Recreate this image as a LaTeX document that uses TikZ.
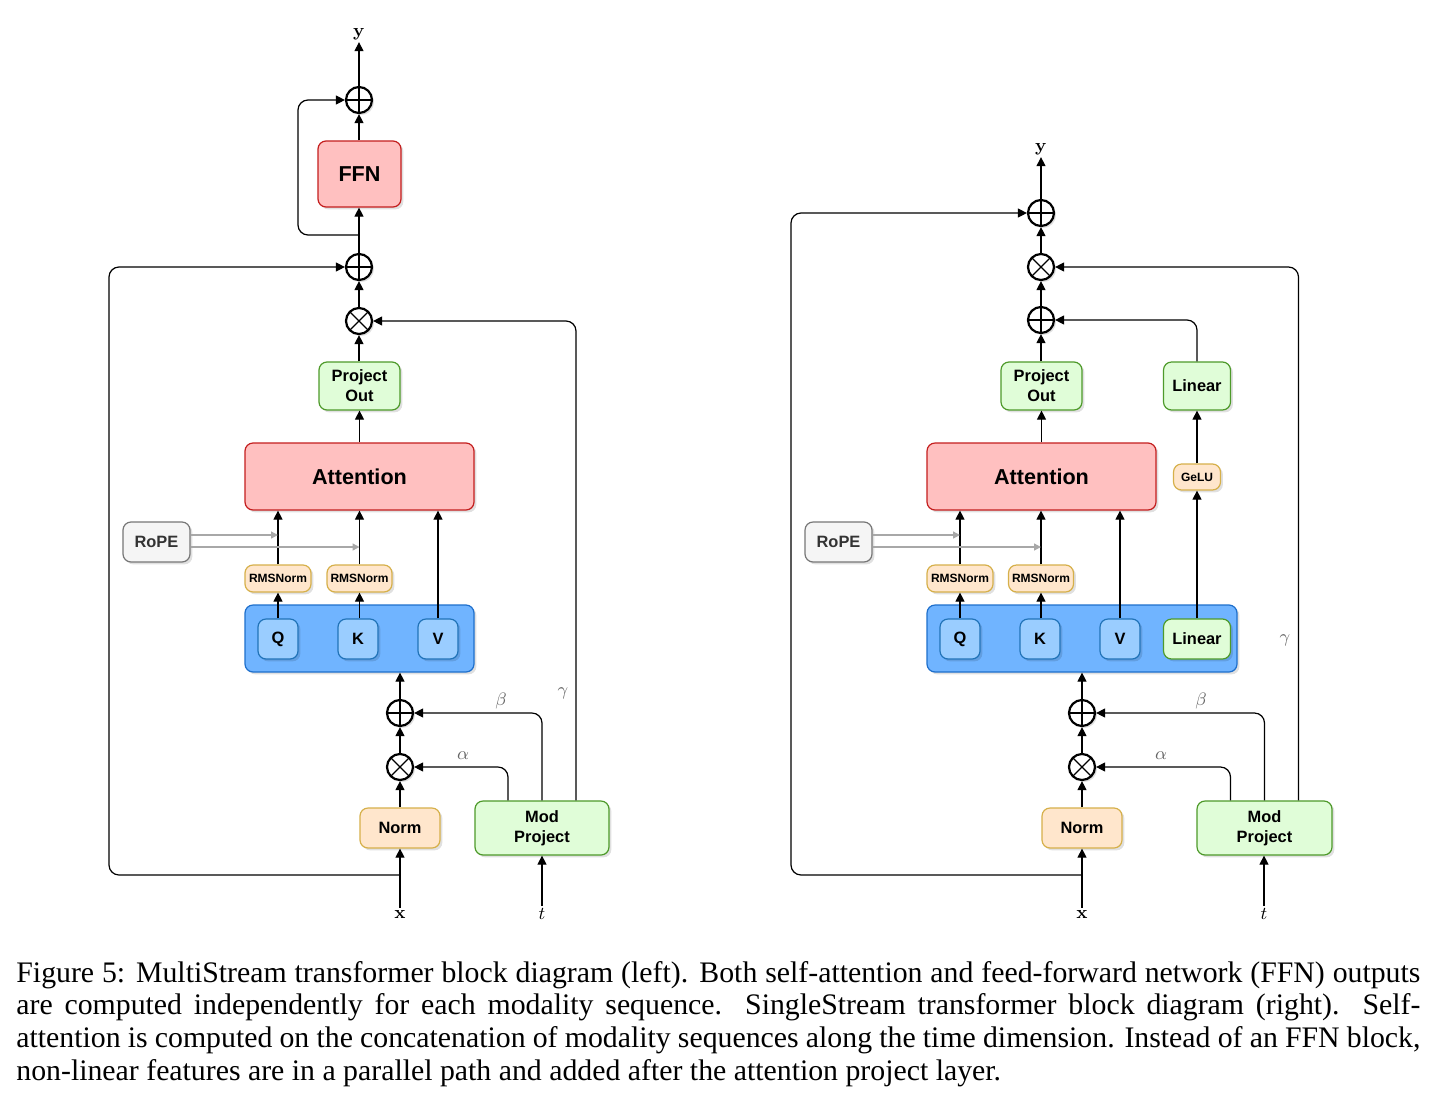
\documentclass[tikz,border=0pt]{standalone}
\usepackage[no-math]{fontspec}
\setmainfont{Liberation Serif}
\setsansfont{Liberation Sans}
\usetikzlibrary{arrows.meta,shadows,calc}
\definecolor{redf}{HTML}{FFC0C0}
\definecolor{redd}{HTML}{C41E1E}
\definecolor{grnf}{HTML}{E0FDD8}
\definecolor{grnd}{HTML}{4E9A2A}
\definecolor{orf}{HTML}{FFE6CC}
\definecolor{ord}{HTML}{D6B04A}
\definecolor{bluf}{HTML}{70B4FF}
\definecolor{blud}{HTML}{1E6FCC}
\definecolor{inf}{HTML}{9ACDFF}
\definecolor{ind}{HTML}{2173B8}
\definecolor{grf}{HTML}{F5F5F5}
\definecolor{grd}{HTML}{777777}
\definecolor{garc}{HTML}{A8A8A8}
\begin{document}
\begin{tikzpicture}[x=0.5pt,y=-0.5pt,
  sz/.style 2 args={minimum width=#1*0.5pt, minimum height=#2*0.5pt},
  box/.style={rounded corners=4pt, draw, line width=0.6pt, align=center, inner sep=0pt,
    font=\sffamily\bfseries\fontsize{8.2}{10}\selectfont,
    drop shadow={shadow xshift=1.2pt, shadow yshift=-1.2pt, opacity=0.12, fill=black}},
  bigred/.style={box, fill=redf, draw=redd, font=\sffamily\bfseries\fontsize{10.8}{12}\selectfont},
  grn/.style={box, fill=grnf, draw=grnd},
  orn/.style={box, fill=orf, draw=ord},
  small/.style={font=\sffamily\bfseries\fontsize{6}{7}\selectfont},
  blu/.style={box, fill=bluf, draw=blud},
  inb/.style={box, fill=inf, draw=ind, sz={40}{40}},
  gry/.style={box, fill=grf, draw=grd, text=black!80},
  opcirc/.style={circle, draw, line width=1.1pt, minimum size=13pt, inner sep=0pt, fill=white,
    drop shadow={shadow xshift=1pt, shadow yshift=-1pt, opacity=0.12, fill=black}},
  oplus/.style={opcirc, path picture={\draw[line width=0.6pt] (path picture bounding box.north) -- (path picture bounding box.south) (path picture bounding box.west) -- (path picture bounding box.east);}},
  otimes/.style={opcirc, path picture={\draw[line width=0.6pt] (path picture bounding box.north west) -- (path picture bounding box.south east) (path picture bounding box.south west) -- (path picture bounding box.north east);}},
  arr/.style={draw, line width=0.6pt, rounded corners=5pt, -{Triangle[length=4.5pt,width=4.5pt]}},
  garr/.style={draw=garc, line width=0.7pt, -{Triangle[length=3.5pt,width=3.5pt]}},
  lab/.style={inner sep=1pt, font=\fontsize{9}{10}\selectfont},
  glab/.style={inner sep=0pt, text=black!60, font=\fontsize{9}{10}\selectfont}
]
\useasboundingbox (0,0) rectangle (1435,1104);
\fill[white] (0,0) rectangle (1435,1104);

%%%%%%%%%%%%%%%% LEFT: MultiStream %%%%%%%%%%%%%%%%
\node[lab] (L-y) at (359,34) {$\mathbf{y}$};
\node[oplus] (L-p3) at (359,100) {};
\node[bigred, sz={83}{66}] (L-ffn) at (359.5,174) {FFN};
\node[oplus] (L-p2) at (359,267) {};
\node[otimes] (L-t1) at (359,321) {};
\node[grn, sz={81}{48}] (L-po) at (359.5,386) {Project\\Out};
\node[bigred, sz={229}{67}] (L-att) at (359.5,476.5) {Attention};
\node[gry, sz={67}{40}] (L-rope) at (156.5,542) {RoPE};
\node[orn, small, sz={66}{27}] (L-rms1) at (278,578.5) {RMSNorm};
\node[orn, small, sz={65}{27}] (L-rms2) at (359.5,578.5) {RMSNorm};
\node[blu, sz={229}{67}] (L-qkv) at (359.5,638.5) {};
\node[inb] (L-q) at (278,639) {Q};
\node[inb] (L-k) at (358,639) {K};
\node[inb] (L-v) at (438,639) {V};
\node[oplus] (L-p0) at (400,713) {};
\node[otimes] (L-t0) at (400,767) {};
\node[orn, sz={80}{40}] (L-norm) at (400,828) {Norm};
\node[grn, sz={134}{54}] (L-mod) at (542,828) {Mod\\Project};
\node[lab] (L-x) at (400,914) {$\mathbf{x}$};
\node[lab] (L-t) at (542,914) {$t$};
\node[glab] at (501,701) {$\beta$};
\node[glab] at (463,756) {$\alpha$};
\node[glab] at (563,693) {$\gamma$};

\coordinate (L-res) at (400,875);
\coordinate (L-sk) at (359,235);
\coordinate (L-r1) at ([yshift=3.5pt]L-rope.east);
\coordinate (L-r2) at ([yshift=-2.5pt]L-rope.east);

\draw[arr] (L-x.north) -- (L-norm.south);
\draw[arr] (L-norm.north) -- (L-t0.south);
\draw[arr] (L-t0.north) -- (L-p0.south);
\draw[arr] (L-p0.north) -- (L-p0.north |- L-qkv.south);
\draw[arr] ([xshift=-17pt]L-mod.north) |- (L-t0);
\draw[arr] (L-mod.north) |- (L-p0);
\draw[arr] ([xshift=17pt]L-mod.north) |- (L-t1);
\draw[arr] (L-t.north) -- (L-mod.south);
\draw[arr] (L-res) -- ++(-291,0) |- (L-p2);
\draw[arr] (L-q.north) -- (L-rms1.south);
\draw[arr] (L-k.north -| L-rms2) -- (L-rms2.south);
\draw[arr] (L-rms1.north) -- (L-rms1.north |- L-att.south);
\draw[arr] (L-rms2.north) -- (L-rms2.north |- L-att.south);
\draw[arr] (L-v.north) -- (L-v.north |- L-att.south);
\draw[garr] (L-r1) -- (L-r1 -| L-rms1);
\draw[garr] (L-r2) -- (L-r2 -| L-rms2);
\draw[arr] (L-att.north -| L-po) -- (L-po.south);
\draw[arr] (L-po.north -| L-t1) -- (L-t1.south);
\draw[arr] (L-t1.north) -- (L-p2.south);
\draw[arr] (L-p2.north) -- (L-ffn.south -| L-p2);
\draw[arr] (L-sk) -- ++(-61,0) |- (L-p3);
\draw[arr] (L-ffn.north -| L-p3) -- (L-p3.south);
\draw[arr] (L-p3.north) -- (L-y.south);

%%%%%%%%%%%%%%%% RIGHT: SingleStream %%%%%%%%%%%%%%%%
\node[lab] (R-y) at (1041,149) {$\mathbf{y}$};
\node[oplus] (R-p2) at (1041,213) {};
\node[otimes] (R-t1) at (1041,267) {};
\node[oplus] (R-p1) at (1041,320) {};
\node[grn, sz={81}{48}] (R-po) at (1041.5,386) {Project\\Out};
\node[grn, sz={67}{48}] (R-lin2) at (1197,386) {Linear};
\node[bigred, sz={229}{67}] (R-att) at (1041.5,476.5) {Attention};
\node[orn, small, sz={47}{26}] (R-gelu) at (1197,477) {GeLU};
\node[gry, sz={67}{40}] (R-rope) at (838.5,542) {RoPE};
\node[orn, small, sz={66}{27}] (R-rms1) at (960,578.5) {RMSNorm};
\node[orn, small, sz={65}{27}] (R-rms2) at (1041,578.5) {RMSNorm};
\node[blu, sz={310}{67}] (R-qkv) at (1082,638.5) {};
\node[inb] (R-q) at (960,639) {Q};
\node[inb] (R-k) at (1040,639) {K};
\node[inb] (R-v) at (1120,639) {V};
\node[grn, sz={67}{40}] (R-lin1) at (1197,639) {Linear};
\node[oplus] (R-p0) at (1082,713) {};
\node[otimes] (R-t0) at (1082,767) {};
\node[orn, sz={80}{40}] (R-norm) at (1082,828) {Norm};
\node[grn, sz={135}{54}] (R-mod) at (1264.5,828) {Mod\\Project};
\node[lab] (R-x) at (1082,914) {$\mathbf{x}$};
\node[lab] (R-t) at (1264,914) {$t$};
\node[glab] at (1201,701) {$\beta$};
\node[glab] at (1161,756) {$\alpha$};
\node[glab] at (1285,640) {$\gamma$};

\coordinate (R-res) at (1082,875);
\coordinate (R-r1) at ([yshift=3.5pt]R-rope.east);
\coordinate (R-r2) at ([yshift=-2.5pt]R-rope.east);

\draw[arr] (R-x.north) -- (R-norm.south);
\draw[arr] (R-norm.north) -- (R-t0.south);
\draw[arr] (R-t0.north) -- (R-p0.south);
\draw[arr] (R-p0.north) -- (R-p0.north |- R-qkv.south);
\draw[arr] ([xshift=-17pt]R-mod.north) |- (R-t0);
\draw[arr] (R-mod.north) |- (R-p0);
\draw[arr] ([xshift=17pt]R-mod.north) |- (R-t1);
\draw[arr] (R-t.north) -- (R-t.north |- R-mod.south);
\draw[arr] (R-res) -- ++(-291,0) |- (R-p2);
\draw[arr] (R-q.north) -- (R-rms1.south);
\draw[arr] (R-k.north -| R-rms2) -- (R-rms2.south);
\draw[arr] (R-rms1.north) -- (R-rms1.north |- R-att.south);
\draw[arr] (R-rms2.north) -- (R-rms2.north |- R-att.south);
\draw[arr] (R-v.north) -- (R-v.north |- R-att.south);
\draw[arr] (R-lin1.north) -- (R-gelu.south);
\draw[arr] (R-gelu.north) -- (R-lin2.south);
\draw[arr] (R-lin2.north) |- (R-p1);
\draw[garr] (R-r1) -- (R-r1 -| R-rms1);
\draw[garr] (R-r2) -- (R-r2 -| R-rms2);
\draw[arr] (R-att.north -| R-po) -- (R-po.south);
\draw[arr] (R-po.north -| R-p1) -- (R-p1.south);
\draw[arr] (R-p1.north) -- (R-t1.south);
\draw[arr] (R-t1.north) -- (R-p2.south);
\draw[arr] (R-p2.north) -- (R-y.south);

%%%%%%%%%%%%%%%% Caption %%%%%%%%%%%%%%%%
\node[anchor=north west, inner sep=0pt, text width=702pt, align=justify,
  font=\fontsize{14.9}{16.3}\selectfont] (cap) at (16,961)
  {Figure 5: MultiStream transformer block diagram (left). Both self-attention and feed-forward network (FFN) outputs\linebreak
  are computed independently for each modality sequence. SingleStream transformer block diagram (right). Self-\linebreak
  attention is computed on the concatenation of modality sequences along the time dimension. Instead of an FFN block,\linebreak
  non-linear features are in a parallel path and added after the attention project layer.};
\end{tikzpicture}
\end{document}
